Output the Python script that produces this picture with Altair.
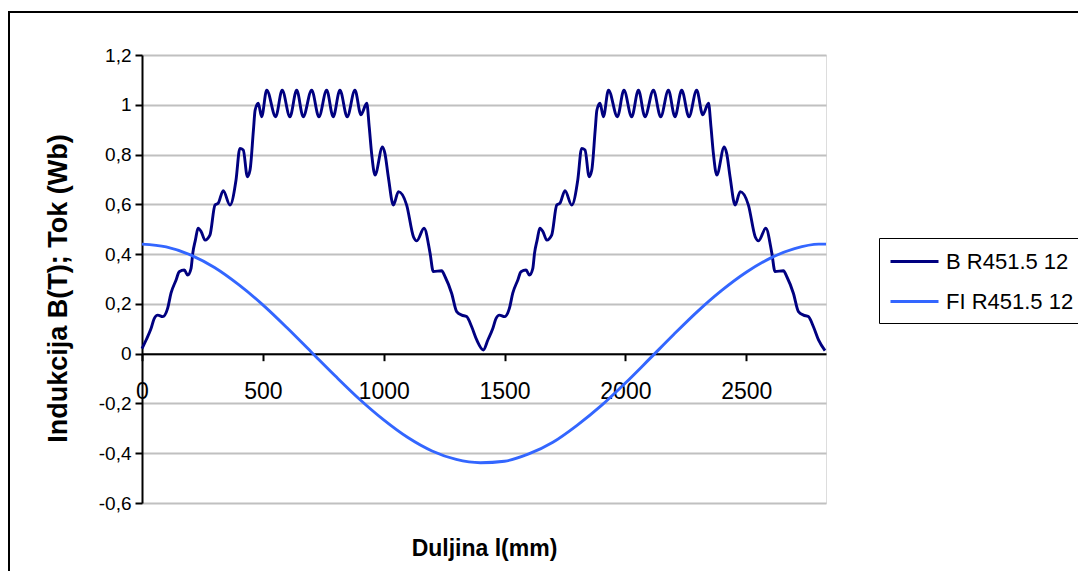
import altair as alt
import pandas as pd

# ---- data ----
B_NAME = "B R451.5 12"
FI_NAME = "FI R451.5 12"

b_x = [0, 17, 37, 51, 65, 86, 106, 120, 141, 154, 175, 189, 203, 210, 221, 232, 245, 261, 281,
       302, 315, 336, 364, 389, 405, 419, 436, 447, 461, 468, 481, 495, 516, 553, 580, 612, 640,
       667, 702, 732, 764, 791, 819, 849, 881, 906, 930, 940, 950, 964, 995, 1005, 1019, 1040,
       1061, 1095, 1123, 1137, 1167, 1192, 1205, 1240, 1254, 1281, 1302, 1323, 1343, 1364, 1385,
       1412,
       1431, 1451, 1465, 1479, 1500, 1520, 1534, 1555, 1568, 1589, 1603, 1617, 1624, 1635, 1646,
       1659, 1675, 1695, 1716, 1729, 1750, 1778, 1803, 1819, 1833, 1850, 1861, 1875, 1882, 1895,
       1909, 1930, 1967, 1994, 2026, 2054, 2081, 2116, 2146, 2178, 2205, 2233, 2263, 2295, 2320,
       2344, 2354, 2364, 2378, 2409, 2419, 2433, 2454, 2475, 2509, 2537, 2551, 2581, 2606, 2619,
       2654, 2668, 2695, 2716, 2737, 2757, 2778, 2799, 2826]
b_y = [0.02, 0.055, 0.10, 0.142, 0.155, 0.149, 0.182, 0.243, 0.296, 0.329, 0.336, 0.316, 0.343,
       0.403, 0.457, 0.504, 0.490, 0.456, 0.476, 0.597, 0.604, 0.655, 0.597, 0.698, 0.825, 0.818,
       0.711, 0.738, 0.898, 0.978, 1.006, 0.952, 1.059, 0.952, 1.059, 0.952, 1.059, 0.952, 1.059,
       0.952, 1.059, 0.952, 1.059, 0.952, 1.059, 0.960, 1.006, 0.912, 0.805, 0.718, 0.831, 0.805,
       0.711, 0.597, 0.651, 0.597, 0.470, 0.453, 0.504, 0.403, 0.330, 0.333, 0.309, 0.243, 0.169,
       0.155, 0.149, 0.108, 0.055, 0.015,
       0.055, 0.10, 0.142, 0.155, 0.149, 0.182, 0.243, 0.296, 0.329, 0.336, 0.316, 0.343,
       0.403, 0.457, 0.504, 0.490, 0.456, 0.476, 0.597, 0.604, 0.655, 0.597, 0.698, 0.825, 0.818,
       0.711, 0.738, 0.898, 0.978, 1.006, 0.952, 1.059, 0.952, 1.059, 0.952, 1.059, 0.952, 1.059,
       0.952, 1.059, 0.952, 1.059, 0.952, 1.059, 0.960, 1.006, 0.912, 0.805, 0.718, 0.831, 0.805,
       0.711, 0.597, 0.651, 0.597, 0.470, 0.453, 0.504, 0.403, 0.330, 0.333, 0.309, 0.243, 0.169,
       0.155, 0.149, 0.108, 0.055, 0.012]

fi_x = [0, 100, 200, 300, 400, 500, 600, 700, 800, 900, 1000, 1100, 1200, 1300, 1400, 1500,
        1600, 1700, 1800, 1900, 2000, 2100, 2200, 2300, 2400, 2500, 2600, 2700, 2800, 2830]
fi_y = [0.440, 0.429, 0.397, 0.346, 0.277, 0.196, 0.104, 0.007, -0.090, -0.183, -0.266, -0.337,
        -0.391, -0.425, -0.438, -0.432, -0.403, -0.356, -0.288, -0.209, -0.118, -0.021, 0.077,
        0.171, 0.255, 0.327, 0.384, 0.422, 0.440, 0.440]

x_ticks = [0, 500, 1000, 1500, 2000, 2500]
y_ticks = [-0.6, -0.4, -0.2, 0, 0.2, 0.4, 0.6, 0.8, 1.0, 1.2]

rows = [{"l": x, "v": y, "s": B_NAME, "o": 0} for x, y in zip(b_x, b_y)]
rows += [{"l": x, "v": y, "s": FI_NAME, "o": 1} for x, y in zip(fi_x, fi_y)]
df = pd.DataFrame(rows)

FONT = "Liberation Sans"
W, H = 684, 448

lines = alt.Chart(df).mark_line(strokeWidth=2.9, interpolate="monotone").encode(
    x=alt.X("l:Q",
            scale=alt.Scale(domain=[0, 2830], nice=False, zero=False),
            axis=alt.Axis(values=x_ticks, title="Duljina l(mm)", grid=False, offset=-149.3,
                          format="d",
                          domainColor="black", domainWidth=2, tickColor="black", tickWidth=2,
                          tickSize=7, labelPadding=20, labelFontSize=23, labelFont=FONT,
                          labelColor="black", labelFlush=False, titleFont=FONT, titleFontSize=23,
                          titleFontWeight="bold", titleColor="black", titleY=202,
                          titleBaseline="alphabetic")),
    y=alt.Y("v:Q",
            scale=alt.Scale(domain=[-0.6, 1.2], nice=False, zero=False),
            axis=alt.Axis(values=y_ticks, title="Indukcija B(T); Tok (Wb)",
                          labelExpr="replace(replace(format(datum.value, '.1~f'), '.', ','), '\u2212', '-')",
                          grid=True, gridColor="#c0c0c0", gridWidth=2,
                          domainColor="black", domainWidth=2, tickColor="black", tickWidth=2,
                          tickSize=7, labelPadding=4, labelFontSize=19, labelFont=FONT,
                          labelColor="black", titleFont=FONT, titleFontSize=27,
                          titleFontWeight="bold", titleColor="black", titleX=-84, titleY=233,
                          titleAlign="center", titleBaseline="middle")),
    color=alt.Color("s:N",
                    scale=alt.Scale(domain=[B_NAME, FI_NAME], range=["#000080", "#3366ff"]),
                    legend=alt.Legend(title=None, orient="none", legendX=737, legendY=183,
                                      strokeColor="black", fillColor="white", padding=10,
                                      symbolType="M-1,0H3", symbolStrokeWidth=3, symbolSize=576,
                                      labelFontSize=22, labelFont=FONT, labelColor="black",
                                      labelOffset=30, rowPadding=15)),
    order=alt.Order("o:Q"),
    detail="s:N",
)

frame = alt.Chart(pd.DataFrame({"a": [0]})).mark_rect(
    fill=None, stroke="black", strokeWidth=2, clip=False
).encode(x=alt.value(-133), x2=alt.value(1200), y=alt.value(-43), y2=alt.value(1200))

chart = alt.layer(lines, frame).properties(
    width=W, height=H,
    autosize=alt.AutoSizeParams(type="none"),
    padding={"left": 134, "top": 47, "right": 252, "bottom": 68},
).configure_view(stroke="#808080", strokeWidth=2).configure(background="white")

chart.save("out.html", embed_options={"renderer": "svg", "actions": False})
